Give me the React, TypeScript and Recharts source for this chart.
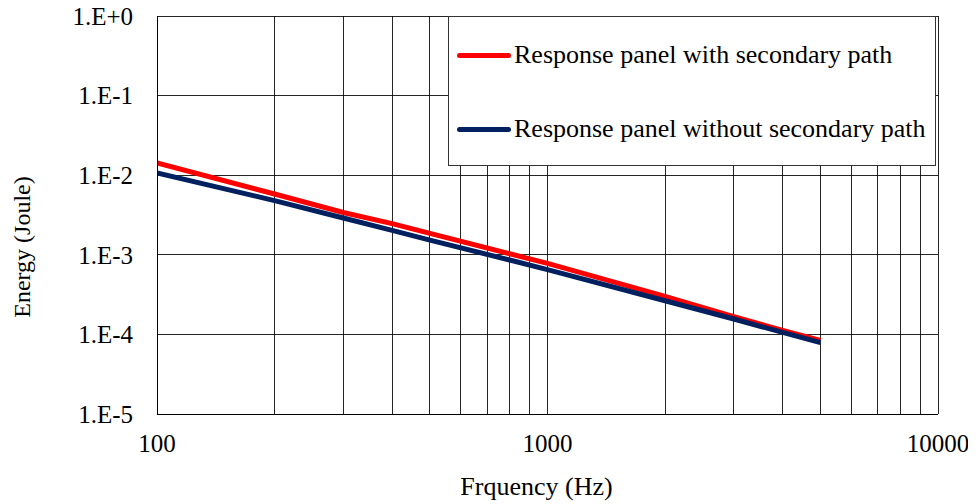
import React from 'react';
import { LineChart, Line, XAxis, YAxis, CartesianGrid, Legend } from 'recharts';

// frequency points (Hz)
const freqs = [100, 200, 300, 400, 500, 800, 1000, 2000, 3000, 4000, 5000];
const withSecondary = [1.43e-2, 5.8e-3, 3.4e-3, 2.46e-3, 1.86e-3, 1.03e-3, 7.8e-4, 3.0e-4, 1.67e-4, 1.12e-4, 8.4e-5];
const withoutSecondary = [1.07e-2, 4.8e-3, 2.9e-3, 2.03e-3, 1.53e-3, 8.6e-4, 6.5e-4, 2.65e-4, 1.56e-4, 1.06e-4, 7.9e-5];

const xTicks = [100, 1000, 10000];
const xGridValues = [100, 200, 300, 400, 500, 600, 700, 800, 900, 1000, 2000, 3000, 4000, 5000, 6000, 7000, 8000, 9000, 10000];
const yTicks = [1e-5, 1e-4, 1e-3, 1e-2, 1e-1, 1];
const yTickLabels = ['1.E-5', '1.E-4', '1.E-3', '1.E-2', '1.E-1', '1.E+0'];

const seriesNames = ['Response panel with secondary path', 'Response panel without secondary path'];
const seriesColors = ['#ff0000', '#002060'];

const data = freqs.map((f, i) => ({
  freq: f,
  withSec: withSecondary[i],
  withoutSec: withoutSecondary[i],
}));

const FONT = '"Liberation Serif", "Times New Roman", serif';

function LegendBox() {
  const rows = [38, 112];
  return (
    <div style={{ position: 'relative', width: 488, height: 150, background: '#fff', border: '1px solid #333', boxSizing: 'border-box', fontFamily: FONT, fontSize: 26, color: '#000' }}>
      {seriesNames.map((name, i) => (
        <div key={name} style={{ position: 'absolute', left: 8, top: rows[i] - 16, height: 32, display: 'flex', alignItems: 'center', whiteSpace: 'nowrap' }}>
          <span style={{ display: 'inline-block', width: 54, height: 5, borderRadius: 3, background: seriesColors[i], marginRight: 3 }} />
          <span>{name}</span>
        </div>
      ))}
    </div>
  );
}

function YTitle(props: any) {
  const vb = props.viewBox;
  const x = vb.x - 35;
  const y = vb.y + vb.height / 2 + 32;
  return (
    <text x={x} y={y} transform={`rotate(-90 ${x} ${y})`} textAnchor="middle" dominantBaseline="central" fontFamily={FONT} fontSize={24} fill="#000">
      Energy (Joule)
    </text>
  );
}

function XTitle(props: any) {
  const vb = props.viewBox;
  const x = vb.x + vb.width / 2 - 11;
  const y = vb.y + 81;
  return (
    <text x={x} y={y} textAnchor="middle" fontFamily={FONT} fontSize={26} fill="#000">
      Frquency (Hz)
    </text>
  );
}

export default function App() {
  return (
    <div style={{ position: 'absolute', left: 8, top: 0, width: 960, height: 504 }}>
      <style>{`.recharts-cartesian-grid line, .recharts-cartesian-axis-line { shape-rendering: crispEdges; }`}</style>
      <LineChart width={960} height={504} data={data} margin={{ top: 16, right: 30, left: 49, bottom: 30 }}>
        <CartesianGrid stroke="#000" strokeOpacity={0.85} verticalValues={xGridValues} horizontalValues={yTicks} />
        <XAxis
          dataKey="freq"
          type="number"
          scale="log"
          domain={[100, 10000]}
          ticks={xTicks}
          interval={0}
          allowDataOverflow
          height={60}
          tickSize={0}
          tickMargin={20}
          axisLine={{ stroke: '#000' }}
          tick={{ fill: '#000', fontSize: 25, fontFamily: FONT }}
          label={<XTitle />}
        />
        <YAxis
          type="number"
          scale="log"
          domain={[1e-5, 1]}
          ticks={yTicks}
          interval={0}
          allowDataOverflow
          width={100}
          tickSize={0}
          tickMargin={24}
          axisLine={{ stroke: '#000' }}
          tick={{ fill: '#000', fontSize: 25, fontFamily: FONT }}
          tickFormatter={(v: number) => yTickLabels[yTicks.findIndex((t) => Math.abs(Math.log10(t) - Math.log10(v)) < 0.01)]}
          label={<YTitle />}
        />
        <Legend
          layout="vertical"
          align="center"
          verticalAlign="middle"
          content={() => <LegendBox />}
          wrapperStyle={{ left: 440, top: 16, width: 488, height: 150 }}
        />
        <Line type="linear" dataKey="withSec" name={seriesNames[0]} stroke={seriesColors[0]} strokeWidth={5} dot={false} isAnimationActive={false} />
        <Line type="linear" dataKey="withoutSec" name={seriesNames[1]} stroke={seriesColors[1]} strokeWidth={5} dot={false} isAnimationActive={false} />
      </LineChart>
    </div>
  );
}
